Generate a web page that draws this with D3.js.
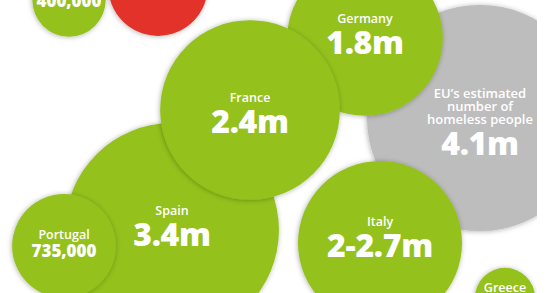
<!DOCTYPE html>
<html>
<head>
<meta charset="utf-8">
<script src="https://cdn.jsdelivr.net/npm/d3@7"></script>
<style>
  body { margin: 0; background: #fff; }
  svg text { font-family: "Open Sans", sans-serif; fill: #fff; text-anchor: middle; }
</style>
</head>
<body>
<div id="chart"></div>
<script>
// Données : pays, valeurs affichées, taille des bulles (millions)
const names  = ["EU's estimated number of homeless people", "Germany", "Italy", "Spain", "France", "Portugal", "Greece", "", ""];
const values = ["4.1m", "1.8m", "2-2.7m", "3.4m", "2.4m", "735,000", "", "400,000", ""];
const sizes  = [3.8, 1.8, 2.0, 3.4, 2.4, 0.8, 0.27, 0.4, 0.74];
const kinds  = ["eu", "country", "country", "country", "country", "country", "country", "country", "other"];
// position des centres (unités de mise en page)
const posX = [480, 365, 380, 172, 250, 64, 505, 69, 158];
const posY = [118, 38, 243, 230, 110, 246, 298, 0, -14];

const width = 560, height = 293;

const svg = d3.select("#chart")
    .append("svg")
    .attr("width", width)
    .attr("height", height);

const defs = svg.append("defs");
const shadow = defs.append("filter").attr("id", "shadow")
    .attr("x", "-20%").attr("y", "-20%").attr("width", "140%").attr("height", "140%");
shadow.append("feDropShadow")
    .attr("dx", -0.5).attr("dy", 0.5)
    .attr("stdDeviation", 2.4)
    .attr("flood-color", "#000")
    .attr("flood-opacity", 0.3);

defs.append("clipPath").attr("id", "crop")
    .append("rect").attr("x", 0).attr("y", 0).attr("width", 537).attr("height", height);

const x = d3.scaleLinear().domain([0, 560]).range([0, width]);
const y = d3.scaleLinear().domain([0, 293]).range([0, height]);
const r = d3.scaleSqrt().domain([0, 1]).range([0, 58]);
const color = d3.scaleOrdinal().domain(["eu", "country", "other"]).range(["#bdbdbd", "#94c11f", "#e3322a"]);

const data = names.map((n, i) => ({ name: n, value: values[i], size: sizes[i], kind: kinds[i], x: posX[i], y: posY[i] }));

const g = svg.append("g").attr("clip-path", "url(#crop)");

const bubble = g.selectAll("g.bubble")
    .data(data)
    .enter()
    .append("g")
    .attr("class", "bubble")
    .attr("transform", d => `translate(${x(d.x)},${y(d.y)})`);

bubble.append("circle")
    .attr("r", d => r(d.size))
    .attr("fill", d => color(d.kind))
    .attr("filter", "url(#shadow)");

// étiquettes
const labelLines = d => d.kind === "eu" ? ["EU\u2019s estimated", "number of", "homeless people"] : (d.name ? [d.name] : []);
const big = d => d.value.indexOf("m") >= 0;
const nudge = { France: 7, Italy: -2 };

bubble.each(function(d) {
    const sel = d3.select(this);
    const lines = labelLines(d);
    const valSize = big(d) ? 32 : 17;
    const gap = big(d) ? 31 : 18;
    const lh = 13;
    // baseline de la valeur
    let vb;
    if (d.kind === "eu") vb = 37;
    else if (d.name === "Greece") vb = -6;
    else if (d.value === "400,000") vb = 7;
    else vb = (big(d) ? 16 : 11) + (nudge[d.name] || 0);
    lines.forEach((t, i) => {
        sel.append("text")
            .attr("x", 0)
            .attr("y", (d.value ? vb - gap : vb) - (lines.length - 1 - i) * lh)
            .style("font-size", d.kind === "eu" ? "13px" : "12.5px")
            .style("font-weight", 600)
            .text(t);
    });
    if (d.value) {
        sel.append("text")
            .attr("x", 0)
            .attr("y", vb)
            .style("font-size", valSize + "px")
            .style("font-weight", 800)
            .style("letter-spacing", big(d) ? "-0.3px" : "0px")
            .text(d.value);
    }
});
</script>
</body>
</html>
